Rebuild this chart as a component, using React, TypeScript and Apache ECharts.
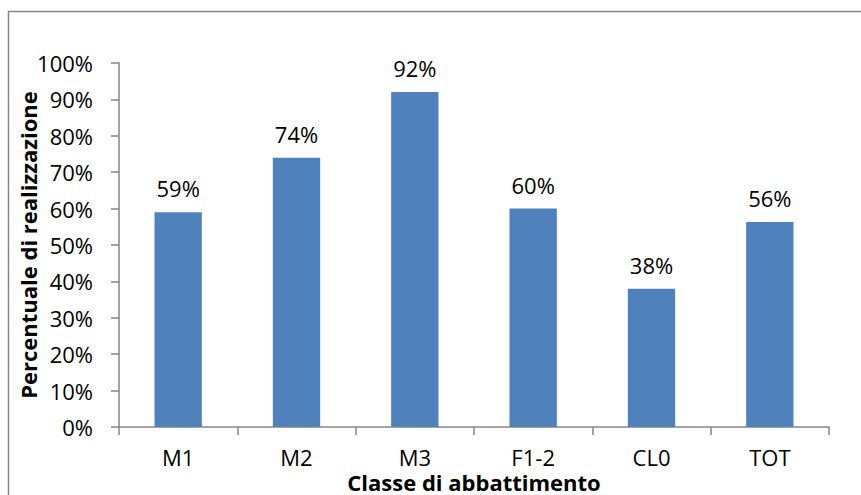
import React, { useEffect, useRef } from "react";
import * as echarts from "echarts";

const categories = ["M1", "M2", "M3", "F1-2", "CL0", "TOT"];
const values = [59, 74, 92, 60, 38, 56.3];
const labels = ["59%", "74%", "92%", "60%", "38%", "56%"];
const yTicks = [0, 10, 20, 30, 40, 50, 60, 70, 80, 90, 100];

const FONT = "'Open Sans', 'Noto Sans', sans-serif";
const AXIS = "#868686";

export default function App() {
  const ref = useRef<HTMLDivElement>(null);
  useEffect(() => {
    document.body.style.margin = "0";
    const chart = echarts.init(ref.current!, null, { renderer: "svg" });
    chart.setOption({
      animation: false,
      backgroundColor: "#fff",
      grid: {
        left: 119,
        top: 63,
        right: 32,
        bottom: 68,
        containLabel: false,
        outerBoundsMode: "none",
      },
      graphic: [
        {
          type: "rect",
          shape: { x: 8.5, y: 11.5, width: 900, height: 600 },
          style: { fill: "none", stroke: AXIS, lineWidth: 1.5 },
          silent: true,
        },
      ],
      xAxis: {
        type: "category",
        data: categories,
        name: "Classe di abbattimento",
        nameLocation: "middle",
        nameGap: 45,
        nameMoveOverlap: false,
        nameTextStyle: { fontFamily: FONT, fontSize: 22, fontWeight: "bold", color: "#000", lineHeight: 20 },
        axisLine: { lineStyle: { color: AXIS, width: 1.5 } },
        axisTick: { show: true, length: 8, lineStyle: { color: AXIS, width: 1.5 } },
        axisLabel: { fontFamily: FONT, fontSize: 22, color: "#000", margin: 20, lineHeight: 20 },
      },
      yAxis: {
        type: "value",
        min: 0,
        max: 100,
        interval: 10,
        name: "Percentuale di realizzazione",
        nameLocation: "middle",
        nameGap: 80,
        nameMoveOverlap: false,
        nameTextStyle: { fontFamily: FONT, fontSize: 22, fontWeight: "bold", color: "#000", lineHeight: 22 },
        axisLine: { show: true, lineStyle: { color: AXIS, width: 1.5 } },
        axisTick: { show: true, length: 8, lineStyle: { color: AXIS, width: 1.5 } },
        splitLine: { show: false },
        axisLabel: {
          fontFamily: FONT,
          fontSize: 22,
          color: "#000",
          margin: 26,
          formatter: (v: number) => (yTicks.includes(v) ? v + "%" : ""),
        },
      },
      series: [
        {
          type: "bar",
          data: values,
          barWidth: "40%",
          itemStyle: { color: "#4F81BD" },
          label: {
            show: true,
            position: "top",
            distance: 13,
            fontFamily: FONT,
            fontSize: 22,
            color: "#000",
            formatter: (p: any) => labels[p.dataIndex],
          },
        },
      ],
    });
    return () => chart.dispose();
  }, []);
  return <div ref={ref} style={{ width: 861, height: 495 }} />;
}
